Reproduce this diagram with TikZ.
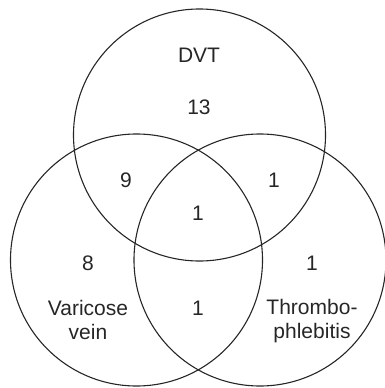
\documentclass[tikz,border=0pt]{standalone}
\usepackage{fontspec}
\setmainfont{Liberation Sans}
\begin{document}
\begin{tikzpicture}[x=1pt,y=-1pt,
  venn/.style={circle,draw=black!85,line width=1.1pt,minimum size=252pt,inner sep=0pt},
  lbl/.style={font=\fontsize{21}{24}\selectfont,text=black!85,align=center,inner sep=0pt}]
\useasboundingbox (0,0) rectangle (385,388);
\node[venn] (dvt) at (199.5,135) {};
\node[venn] (vv) at (136.5,260) {};
\node[venn] (tp) at (260,260) {};
\node[lbl] (tdvt) at (199,55) {DVT};
\node[lbl] (n13) at (199,107) {13};
\node[lbl] (n9) at (126,180) {9};
\node[lbl] (n1a) at (274,180) {1};
\node[lbl] (n1b) at (198,213) {1};
\node[lbl] (n8) at (88,263) {8};
\node[lbl] (n1c) at (312,263) {1};
\node[lbl] (n1d) at (198,308) {1};
\node[lbl] (tvv) at (88,320) {Varicose\\vein};
\node[lbl] (ttp) at (312,321) {Thrombo-\\phlebitis};
\end{tikzpicture}
\end{document}
